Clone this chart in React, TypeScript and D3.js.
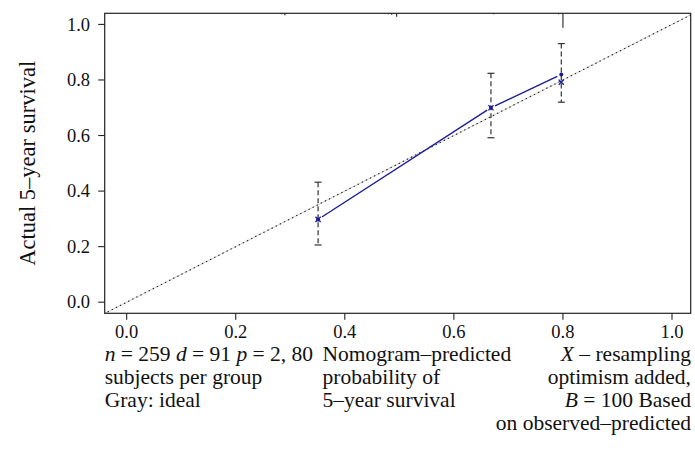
import React from "react";
import * as d3 from "d3";

const tickValues = [0, 0.2, 0.4, 0.6, 0.8, 1.0];
const tickLabels = ["0.0", "0.2", "0.4", "0.6", "0.8", "1.0"];

const predicted = [0.351, 0.668, 0.797];
const observed = [0.298, 0.700, 0.820];
const corrected = [0.298, 0.700, 0.792];
const lowerCI = [0.206, 0.592, 0.720];
const upperCI = [0.432, 0.824, 0.931];

const spikeX = [0.284, 0.290, 0.480, 0.486, 0.495, 0.673, 0.792, 0.800];
const spikeCount = [2, 4, 2, 3, 7, 2, 2, 29];

const yTitle = "Actual 5\u2013year survival";
const col2Lines = ["Nomogram\u2013predicted", "probability of", "5\u2013year survival"];

const W = 695, H = 472;
const L = 104.7, R = 690.7, T = 13.3, B = 313.3;
const FONT = "'Liberation Serif', 'DejaVu Serif', serif";
const BLUE = "#1c1c96";

export default function App() {
  const x = d3.scaleLinear().domain([-0.0403, 1.0343]).range([L, R]);
  const y = d3.scaleLinear().domain([-0.04, 1.04]).range([B, T]);
  const spikeScale = d3.scaleLinear().domain([0, d3.max(spikeCount) as number]).range([0, 14.5]);

  const pts = predicted.map((p, i) => [x(p), y(observed[i])] as [number, number]);
  const segs: [number, number, number, number][] = [];
  const gap = 4.5;
  for (let i = 0; i < pts.length - 1; i++) {
    const [x1, y1] = pts[i];
    const [x2, y2] = pts[i + 1];
    const len = Math.hypot(x2 - x1, y2 - y1);
    const ux = (x2 - x1) / len, uy = (y2 - y1) / len;
    segs.push([x1 + ux * gap, y1 + uy * gap, x2 - ux * gap, y2 - uy * gap]);
  }
  const lineGen = d3.line();

  const fs = 21.5;
  const tfs = 18.5;
  const lineY = [360.5, 383.8, 407.1, 430.4];

  return (
    <svg width={W} height={H} style={{ position: "absolute", left: 0, top: 0, background: "#fff" }} fontFamily={FONT}>
      <defs>
        <clipPath id="plotclip">
          <rect x={L} y={T} width={R - L} height={B - T} />
        </clipPath>
      </defs>
      {/* ideal line */}
      <g clipPath="url(#plotclip)">
        <line x1={x(-0.05)} y1={y(-0.05)} x2={x(1.05)} y2={y(1.05)} stroke="#cfcfcf" strokeWidth={1} />
        <line x1={x(-0.05)} y1={y(-0.05)} x2={x(1.05)} y2={y(1.05)} stroke="#222" strokeWidth={1.1} strokeDasharray="1.4,3.2" />
      </g>
      {/* spike histogram */}
      {spikeX.map((s, i) => (
        <line key={"sp" + i} x1={x(s)} x2={x(s)} y1={T} y2={T + spikeScale(spikeCount[i])} stroke="#333" strokeWidth={1.2} />
      ))}
      {/* error bars */}
      {predicted.map((p, i) => (
        <g key={"eb" + i} stroke="#333" strokeWidth={1.2}>
          <line x1={x(p)} x2={x(p)} y1={y(upperCI[i])} y2={y(lowerCI[i])} strokeDasharray="5,3" />
          <line x1={x(p) - 3.5} x2={x(p) + 3.5} y1={y(upperCI[i])} y2={y(upperCI[i])} />
          <line x1={x(p) - 3.5} x2={x(p) + 3.5} y1={y(lowerCI[i])} y2={y(lowerCI[i])} />
        </g>
      ))}
      {/* calibration line */}
      {segs.map((s, i) => (
        <path key={"sg" + i} d={lineGen([[s[0], s[1]], [s[2], s[3]]]) as string} stroke={BLUE} strokeWidth={1.4} fill="none" />
      ))}
      {/* observed points */}
      {pts.map((p, i) => (
        <circle key={"pt" + i} cx={p[0]} cy={p[1]} r={2} fill={BLUE} />
      ))}
      {/* corrected X marks */}
      {predicted.map((p, i) => {
        const cx = x(p), cy = y(corrected[i]), s = 2.6;
        return (
          <g key={"x" + i} stroke={BLUE} strokeWidth={1.3}>
            <line x1={cx - s} y1={cy - s} x2={cx + s} y2={cy + s} />
            <line x1={cx - s} y1={cy + s} x2={cx + s} y2={cy - s} />
          </g>
        );
      })}
      {/* box */}
      <rect x={L} y={T} width={R - L} height={B - T} fill="none" stroke="#222" strokeWidth={1.2} />
      {/* x axis */}
      {tickValues.map((v, i) => (
        <g key={"xt" + i}>
          <line x1={x(v)} x2={x(v)} y1={B} y2={B + 6.5} stroke="#222" strokeWidth={1.1} />
          <text x={x(v)} y={338} textAnchor="middle" fontSize={tfs} fill="#111">{tickLabels[i]}</text>
        </g>
      ))}
      {/* y axis */}
      {tickValues.map((v, i) => (
        <g key={"yt" + i}>
          <line x1={L} x2={L - 6.5} y1={y(v)} y2={y(v)} stroke="#222" strokeWidth={1.1} />
          <text x={90} y={y(v) + 6.3} textAnchor="end" fontSize={tfs} fill="#111">{tickLabels[i]}</text>
        </g>
      ))}
      <text transform={`translate(35,${(T + B) / 2}) rotate(-90)`} textAnchor="middle" fontSize={22.5} fill="#111">{yTitle}</text>
      {/* subtitles */}
      <text x={L} y={lineY[0]} fontSize={fs} fill="#111">
        <tspan fontStyle="italic">n</tspan> = 259 <tspan fontStyle="italic">d</tspan> = 91 <tspan fontStyle="italic">p</tspan> = 2, 80
      </text>
      <text x={L} y={lineY[1]} fontSize={fs} fill="#111">subjects per group</text>
      <text x={L} y={lineY[2]} fontSize={fs} fill="#111">Gray: ideal</text>
      {col2Lines.map((t, i) => (
        <text key={"c2" + i} x={322.5} y={lineY[i]} fontSize={fs} fill="#111">{t}</text>
      ))}
      <text x={691} y={lineY[0]} textAnchor="end" fontSize={fs} fill="#111">
        <tspan fontStyle="italic">X</tspan> {"\u2013"} resampling
      </text>
      <text x={691} y={lineY[1]} textAnchor="end" fontSize={fs} fill="#111">optimism added,</text>
      <text x={691} y={lineY[2]} textAnchor="end" fontSize={fs} fill="#111">
        <tspan fontStyle="italic">B</tspan> = 100 Based
      </text>
      <text x={691} y={lineY[3]} textAnchor="end" fontSize={fs} fill="#111">on observed{"\u2013"}predicted</text>
    </svg>
  );
}
